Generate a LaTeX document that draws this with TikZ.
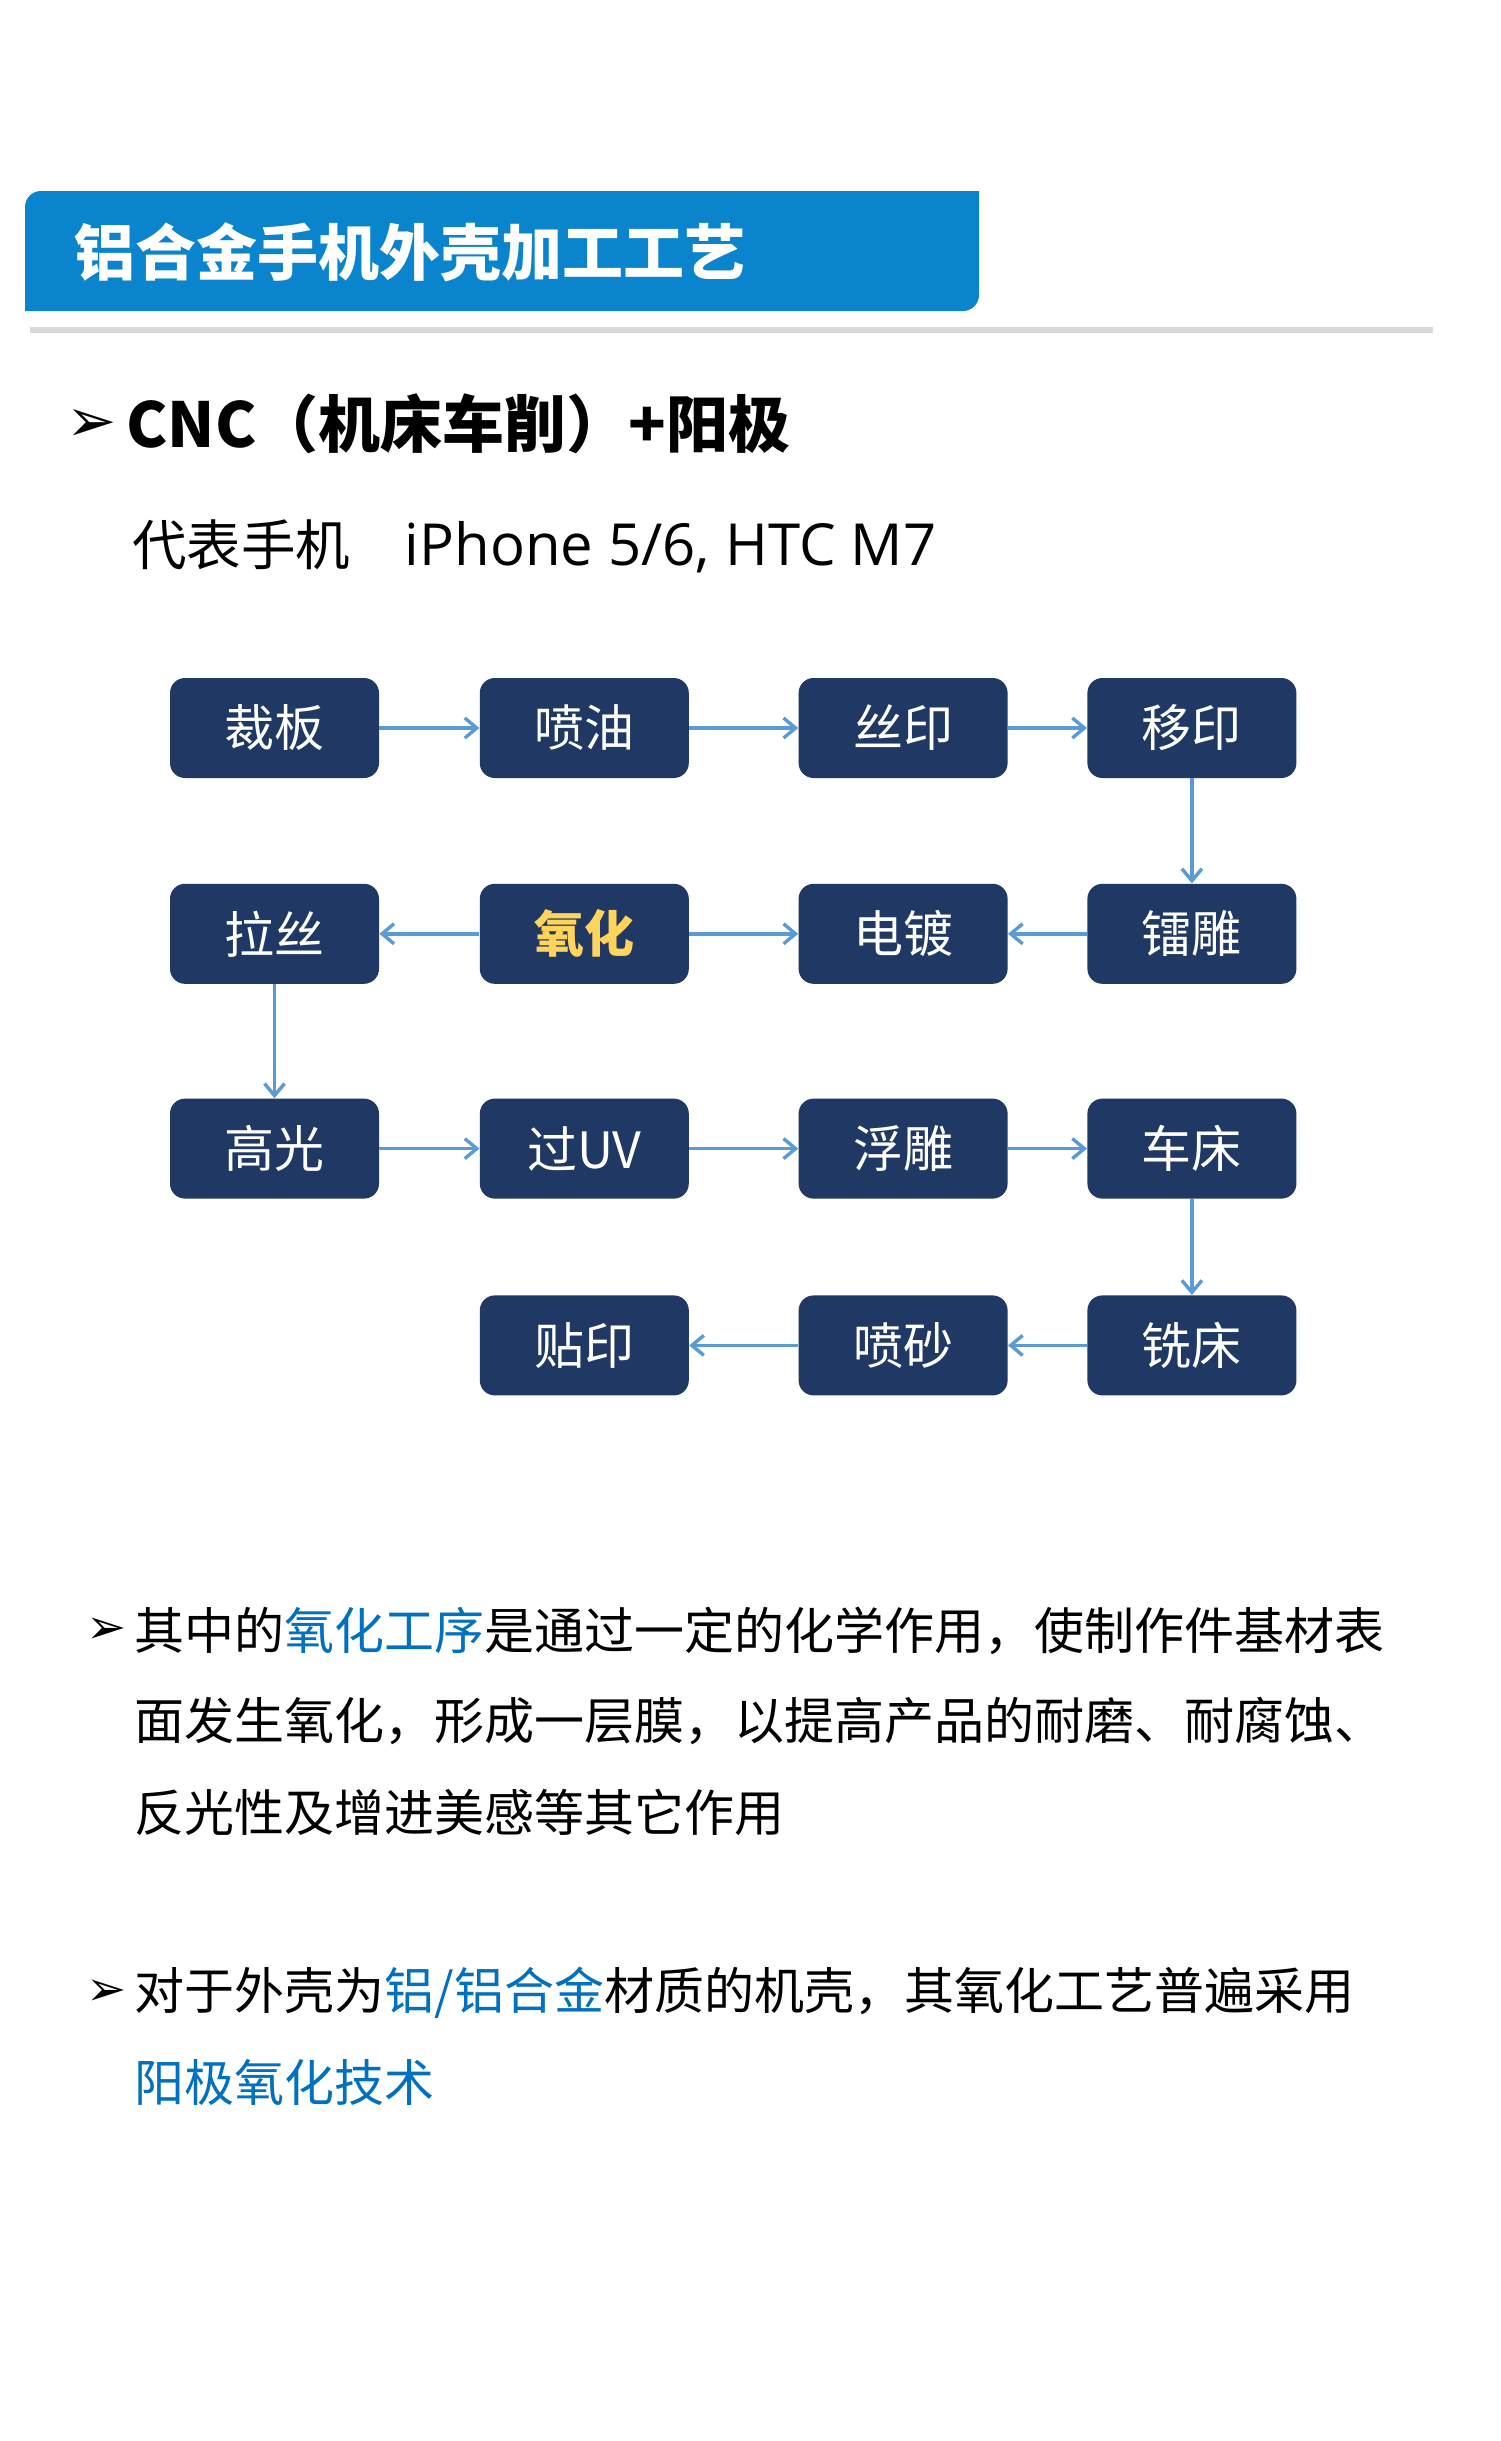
\documentclass[tikz,border=0pt]{standalone}
\usepackage{fontspec}
\usepackage{xcolor}
\usepackage{tikz}
\usetikzlibrary{arrows.meta,positioning}
\setmainfont{Noto Sans CJK SC}
\newfontfamily\symfont{DejaVu Sans}
\newfontfamily\latinfont{Open Sans}
\definecolor{titleblue}{HTML}{0A84CC}
\definecolor{boxnavy}{HTML}{1F3864}
\definecolor{flowblue}{HTML}{5B9BD5}
\definecolor{hiblue}{HTML}{0070C0}
\definecolor{hiyellow}{HTML}{FFD45C}
\definecolor{rulegray}{HTML}{D9D9D9}
\newcommand{\fsz}[1]{\fontsize{#1}{#1}\selectfont}

\begin{document}
\begin{tikzpicture}[x=0.5pt,y=0.5pt,
    proc node/.style={rectangle,rounded corners=7.5pt,fill=boxnavy,text=white,minimum width=104.5pt,minimum height=50pt,inner sep=0pt,font=\fsz{25pt}},
    line text/.style={anchor=west,inner sep=0pt,font=\fsz{25pt}},
    bullet/.style={anchor=west,inner sep=0pt,font=\symfont\fsz{#1}}]
    \useasboundingbox (0,0) rectangle (1500,-2441);
    \fill[white] (0,0) rectangle (1500,-2441);

    \fill[titleblue] (25,-311) -- (25,-207) arc[start angle=180,end angle=90,radius=8pt] -- (979,-191) -- (979,-295) arc[start angle=0,end angle=-90,radius=8pt] -- cycle;
    \node[anchor=west,inner sep=0pt,text=white,font=\fsz{30.5pt}\bfseries] (title) at (74,-252) {铝合金手机外壳加工工艺};
    \fill[rulegray] (30,-327) rectangle (1433,-333);

    \node[bullet=30pt] (b1) at (66,-425) {➢};
    \node[anchor=west,inner sep=0pt,font=\fsz{31pt}\bfseries] (head) at (126,-424) {CNC（机床车削）+阳极};
    \node[anchor=west,inner sep=0pt,font=\fsz{27.25pt}] (sub) at (132,-546) {代表手机　{\latinfont\fsz{29pt}iPhone 5/6, HTC M7}};

    \node[proc node] (1) at (274.5,-728) {裁板};
    \node[proc node] (2) [right=50pt of 1] {喷油};
    \node[proc node] (3) [right=54.5pt of 2] {丝印};
    \node[proc node] (4) [right=39.5pt of 3] {移印};
    \node[proc node] (5) [below=52.5pt of 1] {拉丝};
    \node[proc node,text=hiyellow,font=\fsz{25pt}\bfseries] (6) [right=50pt of 5] {氧化};
    \node[proc node] (7) [right=54.5pt of 6] {电镀};
    \node[proc node] (8) [right=39.5pt of 7] {镭雕};
    \node[proc node] (9) [below=57pt of 5] {高光};
    \node[proc node] (10) [right=50pt of 9] {过UV};
    \node[proc node] (11) [right=54.5pt of 10] {浮雕};
    \node[proc node] (12) [right=39.5pt of 11] {车床};
    \node[proc node] (15) [below=48pt of 12] {铣床};
    \node[proc node] (14) [left=39.5pt of 15] {喷砂};
    \node[proc node] (13) [left=54.5pt of 14] {贴印};

    \path[draw=flowblue,line width=1.7pt,-{Straight Barb[length=6pt,width=10pt]}]
    (1) edge (2)
    (2) edge (3)
    (3) edge (4)
    (4) edge (8)
    (8) edge (7)
    (6) edge (7)
    (6) edge (5)
    (5) edge (9)
    (9) edge (10)
    (10) edge (11)
    (11) edge (12)
    (12) edge (15)
    (15) edge (14)
    (14) edge (13);

    \node[bullet=24pt] (b2) at (86,-1631) {➢};
    \node[line text] (p1) at (134,-1631) {其中的\textcolor{hiblue}{氧化工序}是通过一定的化学作用，使制作件基材表};
    \node[line text] (p2) at (134,-1721) {面发生氧化，形成一层膜，以提高产品的耐磨、耐腐蚀、};
    \node[line text] (p3) at (134,-1812) {反光性及增进美感等其它作用};
    \node[bullet=24pt] (b3) at (86,-1993) {➢};
    \node[line text] (q1) at (134,-1993) {对于外壳为\textcolor{hiblue}{铝/铝合金}材质的机壳，其氧化工艺普遍采用};
    \node[line text,text=hiblue] (q2) at (134,-2082) {阳极氧化技术};
\end{tikzpicture}
\end{document}
